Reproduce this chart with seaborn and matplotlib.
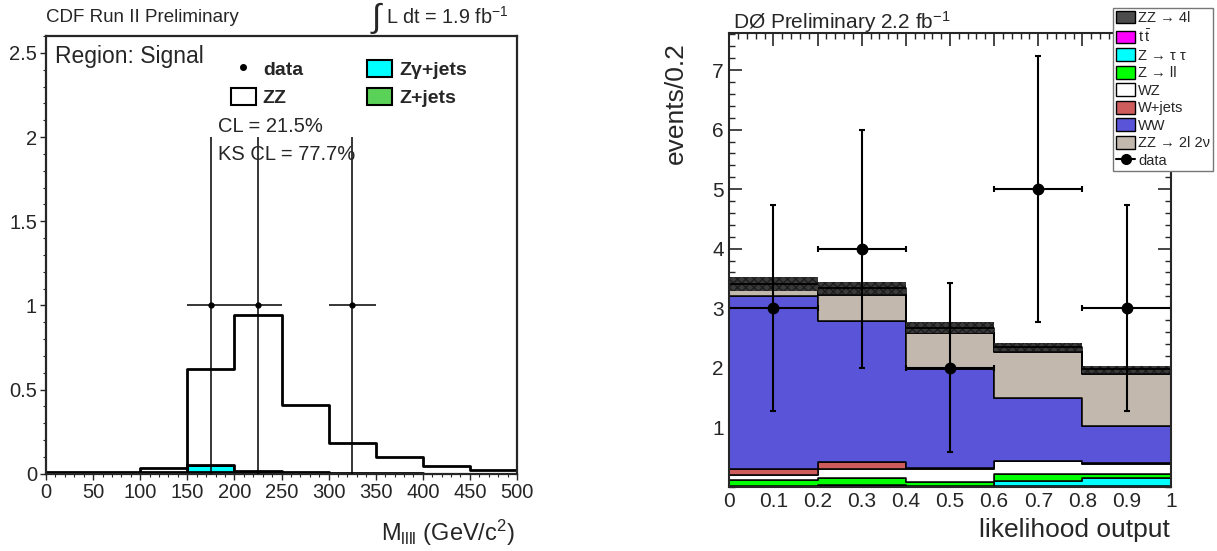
import matplotlib
matplotlib.use('Agg')
import matplotlib.pyplot as plt
import matplotlib.patches as patches
from matplotlib.lines import Line2D
from matplotlib.ticker import MultipleLocator, FixedLocator, FuncFormatter
import numpy as np
import pandas as pd
import seaborn as sns

# CDF panel: M_llll in 50 GeV bins
cdf_edges = [0, 50, 100, 150, 200, 250, 300, 350, 400, 450, 500]
cdf_zz = [0.012, 0.012, 0.026, 0.568, 0.923, 0.402, 0.178, 0.095, 0.044, 0.022]
cdf_zgamma = [0, 0, 0.005, 0.042, 0.012, 0.005, 0.002, 0.002, 0, 0]
cdf_zjets = [0, 0, 0.005, 0.010, 0.005, 0.003, 0, 0, 0, 0]
cdf_data_x = [175, 225, 325]
cdf_data_y = [1, 1, 1]
cdf_data_err = [1, 1, 1]

# D0 panel: likelihood output in 0.2 bins
d0_edges = [0, 0.2, 0.4, 0.6, 0.8, 1.0]
d0_ttbar = [0.01, 0.02, 0.01, 0.02, 0.02]
d0_ztautau = [0.01, 0.01, 0.01, 0.07, 0.13]
d0_zll = [0.09, 0.12, 0.06, 0.13, 0.06]
d0_wz = [0.08, 0.15, 0.22, 0.21, 0.17]
d0_wjets = [0.10, 0.11, 0.01, 0.00, 0.01]
d0_ww = [2.91, 2.38, 1.66, 1.06, 0.63]
d0_zz2l2v = [0.11, 0.44, 0.62, 0.78, 0.88]
d0_zz4l = [0.10, 0.11, 0.08, 0.08, 0.07]
d0_syst = [0.12, 0.10, 0.09, 0.07, 0.06]
d0_data_y = [3, 4, 2, 5, 3]
d0_data_err = [1.73, 2.0, 1.42, 2.24, 1.73]

W, H = 1217, 551

sns.set_style("ticks")
plt.rcParams['font.family'] = ['Liberation Sans', 'DejaVu Sans']
plt.rcParams['mathtext.fontset'] = 'custom'
plt.rcParams['mathtext.rm'] = 'Liberation Sans'
plt.rcParams['mathtext.it'] = 'Liberation Sans:italic'
plt.rcParams['mathtext.bf'] = 'Liberation Sans:bold'

fig = plt.figure(figsize=(W / 100, H / 100), dpi=100)
fig.patch.set_facecolor('white')


def fx(x):
    return x / W


def fy(y):
    return 1 - y / H


# ---------------- left: CDF ----------------
ax1 = fig.add_axes([fx(46), fy(473.7), 471 / W, 437.7 / H])

cdf_centers = (np.array(cdf_edges[:-1]) + np.array(cdf_edges[1:])) / 2
cdf_procs = {'ZZ': cdf_zz, 'Zγ+jets': cdf_zgamma, 'Z+jets': cdf_zjets}
rows = []
for name, vals in cdf_procs.items():
    for c, v in zip(cdf_centers, vals):
        rows.append({'x': c, 'w': v, 'proc': name})
df1 = pd.DataFrame(rows)
cdf_colors = {'ZZ': 'white', 'Zγ+jets': '#00ffff', 'Z+jets': '#5ad257'}

sns.histplot(data=df1, x='x', weights='w', hue='proc',
             hue_order=['ZZ', 'Zγ+jets', 'Z+jets'], palette=cdf_colors,
             bins=cdf_edges, multiple='stack', element='step', fill=True,
             alpha=1, edgecolor='black', linewidth=2, legend=False, ax=ax1)

ax1.errorbar(cdf_data_x, cdf_data_y, xerr=25, yerr=cdf_data_err, fmt='o',
             ms=3.5, color='black', elinewidth=1.1, capsize=0, zorder=5)

ax1.set_xlim(0, 500)
ax1.set_ylim(0, 2.6)
ax1.set_xlabel('')
ax1.set_ylabel('')
ax1.xaxis.set_major_locator(MultipleLocator(50))
ax1.xaxis.set_minor_locator(MultipleLocator(10))
ax1.yaxis.set_major_locator(MultipleLocator(0.5))
ax1.yaxis.set_minor_locator(MultipleLocator(0.1))
ax1.yaxis.set_major_formatter(FuncFormatter(lambda v, p: '%g' % v))
ax1.tick_params(which='both', direction='out', labelsize=14.5, top=False, right=False)
ax1.tick_params(which='major', length=4.5, width=1, pad=2)
ax1.tick_params(which='minor', length=2.2, width=0.8)
for s in ax1.spines.values():
    s.set_linewidth(1.6)
    s.set_visible(True)

leg1_handles = [
    Line2D([], [], marker='o', ls='none', ms=4, color='black'),
    patches.Patch(facecolor='white', edgecolor='black', linewidth=1.5),
    patches.Patch(facecolor='#00ffff', edgecolor='black', linewidth=1.5),
    patches.Patch(facecolor='#5ad257', edgecolor='black', linewidth=1.5),
]
ax1.legend(leg1_handles, ['data', 'ZZ', 'Zγ+jets', 'Z+jets'], ncol=2,
           loc='upper left', bbox_to_anchor=((221 - 46) / 471, (473.7 - 50) / 437.7),
           frameon=False, borderpad=0, prop={'weight': 'bold', 'size': 14},
           handlelength=1.3, handleheight=1.0, handletextpad=0.35,
           columnspacing=3.3, labelspacing=0.45)

fig.text(fx(55), fy(57), 'Region: Signal', fontsize=16.5, ha='left', va='center')
fig.text(fx(218), fy(127), 'CL = 21.5%', fontsize=14.5, ha='left', va='center')
fig.text(fx(218), fy(155), 'KS CL = 77.7%', fontsize=14.5, ha='left', va='center')
fig.text(fx(46), fy(17), 'CDF Run II Preliminary', fontsize=13.5, ha='left', va='center')
fig.text(fx(377), fy(18), r'$\int$', fontsize=24, ha='center', va='center')
fig.text(fx(509), fy(17), r'L dt = 1.9 fb$^{-1}$', fontsize=14.3, ha='right', va='center')
fig.text(fx(515), fy(533), r'M$_{\mathregular{llll}}$ (GeV/c$^{2}$)', fontsize=17,
         ha='right', va='center')

# ---------------- right: D0 ----------------
ax2 = fig.add_axes([fx(729.3), fy(486.7), 441.4 / W, 453.4 / H])

d0_centers = (np.array(d0_edges[:-1]) + np.array(d0_edges[1:])) / 2
d0_procs = {
    'ZZ → 4l': d0_zz4l,
    'ZZ → 2l 2ν': d0_zz2l2v,
    'WW': d0_ww,
    'W+jets': d0_wjets,
    'WZ': d0_wz,
    'Z → ll': d0_zll,
    'Z → τ τ': d0_ztautau,
    r'$\mathregular{t\,\bar{t}}$': d0_ttbar,
}
d0_colors = {
    'ZZ → 4l': '#4c4c4c',
    'ZZ → 2l 2ν': '#c2b8ae',
    'WW': '#5954d8',
    'W+jets': '#cf5c5c',
    'WZ': 'white',
    'Z → ll': '#00ff00',
    'Z → τ τ': '#00ffff',
    r'$\mathregular{t\,\bar{t}}$': '#ff00ff',
}
rows = []
for name, vals in d0_procs.items():
    for c, v in zip(d0_centers, vals):
        rows.append({'x': c, 'w': v, 'proc': name})
df2 = pd.DataFrame(rows)

sns.histplot(data=df2, x='x', weights='w', hue='proc',
             hue_order=list(d0_procs.keys()), palette=d0_colors,
             bins=d0_edges, multiple='stack', element='step', fill=True,
             alpha=1, edgecolor='black', linewidth=1.1, legend=False, ax=ax2)

d0_total = np.sum([d0_ttbar, d0_ztautau, d0_zll, d0_wz, d0_wjets, d0_ww,
                   d0_zz2l2v, d0_zz4l], axis=0)
ax2.bar(d0_centers, 2 * np.array(d0_syst), bottom=d0_total - np.array(d0_syst),
        width=0.2, color='#3a3a3a', edgecolor='#1e1e1e', hatch='xxxx',
        linewidth=0, zorder=3)
ax2.hlines(d0_total, d0_edges[:-1], d0_edges[1:], color='black', lw=1.3, zorder=4)

ax2.errorbar(d0_centers, d0_data_y, xerr=0.1, yerr=d0_data_err, fmt='o',
             ms=7.5, color='black', elinewidth=1.5, capsize=2.2, capthick=1.5,
             zorder=6)

ax2.set_xlim(0, 1)
ax2.set_ylim(0, 7.62)
ax2.set_xlabel('')
ax2.set_ylabel('')
ax2.xaxis.set_major_locator(MultipleLocator(0.1))
ax2.xaxis.set_minor_locator(MultipleLocator(0.02))
ax2.xaxis.set_major_formatter(FuncFormatter(lambda v, p: '%g' % v))
ax2.yaxis.set_major_locator(FixedLocator([1, 2, 3, 4, 5, 6, 7]))
ax2.yaxis.set_minor_locator(MultipleLocator(0.2))
ax2.tick_params(which='both', direction='in', top=True, right=True, labelsize=15)
ax2.tick_params(which='major', length=9.5, width=1.2, pad=4)
ax2.tick_params(which='minor', length=4, width=1)
for s in ax2.spines.values():
    s.set_linewidth(1.5)
    s.set_visible(True)
    s.set_zorder(10)

fig.text(fx(733), fy(22), r'DØ Preliminary 2.2 fb$^{-1}$', fontsize=15, ha='left', va='center')
fig.text(fx(1170), fy(530), 'likelihood output', fontsize=19, ha='right', va='center')
fig.text(fx(676), fy(42), 'events/0.2', fontsize=19, ha='center', va='top', rotation=90)

leg_names = ['ZZ → 4l', r'$\mathregular{t\,\bar{t}}$', 'Z → τ τ', 'Z → ll', 'WZ',
             'W+jets', 'WW', 'ZZ → 2l 2ν']
leg2_handles = [patches.Patch(facecolor=d0_colors[n], edgecolor='black', linewidth=1)
                for n in leg_names]
leg2_handles.append(Line2D([], [], marker='o', ms=7, lw=1.5, color='black'))
leg2 = fig.legend(leg2_handles, leg_names + ['data'], loc='upper right',
                  bbox_to_anchor=(fx(1213), fy(8)), fontsize=10.5,
                  fancybox=False, framealpha=1, edgecolor='#777777',
                  borderpad=0.2, borderaxespad=0, handlelength=1.3,
                  handleheight=0.95, handletextpad=0.2, labelspacing=0.22)
leg2.get_frame().set_linewidth(1)

fig.savefig('out.png', dpi=100, facecolor='white')
